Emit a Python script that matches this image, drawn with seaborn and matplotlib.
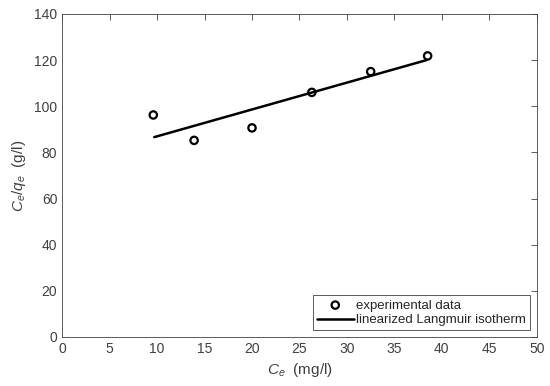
import matplotlib
matplotlib.use("Agg")
import matplotlib.pyplot as plt
import seaborn as sns
import pandas as pd

# experimental points
ce = [9.6, 13.9, 20.0, 26.3, 32.5, 38.5]
ce_qe = [96.2, 85.2, 90.6, 106.0, 115.0, 121.8]

# linearized Langmuir fit line (end points)
fit_x = [9.7, 38.4]
fit_y = [86.6, 120.0]

sns.set_style("white")
plt.rcParams['font.family'] = ['Liberation Sans', 'DejaVu Sans']
plt.rcParams['mathtext.fontset'] = 'custom'
plt.rcParams['mathtext.it'] = 'Liberation Sans:italic'
plt.rcParams['mathtext.rm'] = 'Liberation Sans'

df = pd.DataFrame({'ce': ce, 'ce_qe': ce_qe})
fit = pd.DataFrame({'x': fit_x, 'y': fit_y})

fig, ax = plt.subplots(figsize=(5.5, 3.86), dpi=100)
fig.subplots_adjust(left=0.113, right=0.976, top=0.964, bottom=0.127)

sns.scatterplot(data=df, x='ce', y='ce_qe', ax=ax, marker='o', s=28,
                facecolor='none', edgecolor='black', linewidth=1.6,
                label='experimental data', zorder=3)
sns.lineplot(data=fit, x='x', y='y', ax=ax, color='black', linewidth=1.8,
             label='linearized Langmuir isotherm')

ax.set_xlim(0, 50)
ax.set_ylim(0, 140)
ax.set_xticks(range(0, 51, 5))
ax.set_yticks(range(0, 141, 20))
ax.tick_params(direction='in', top=True, right=True, length=4, width=0.6,
               colors='#404040', labelsize=10, labelcolor='#404040')
for sp in ax.spines.values():
    sp.set_color('#404040')
    sp.set_linewidth(0.6)

ax.set_xlabel(r'$C_e$  (mg/l)', fontsize=11, color='#404040')
ax.set_ylabel(r'$C_e/q_e$  (g/l)', fontsize=11, color='#404040')

leg = ax.legend(loc='lower right', fancybox=False, framealpha=1,
                edgecolor='#404040', fontsize=9.5, borderpad=0.3,
                handlelength=2.8, handletextpad=0.2, labelspacing=0.2)
leg.get_frame().set_linewidth(0.6)

fig.savefig('out.png', dpi=100)
